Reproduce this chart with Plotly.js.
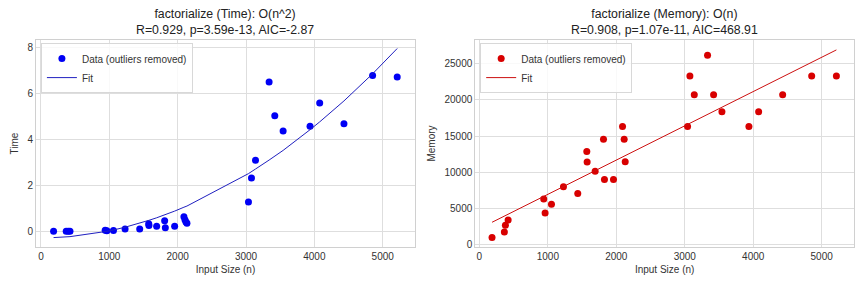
<!DOCTYPE html>
<html><head><meta charset="utf-8">
<script src="https://cdn.plot.ly/plotly-3.0.1.min.js"></script>
<style>body{margin:0;padding:0;background:#fff}#chart{width:864px;height:288px}</style>
</head><body><div id="chart"></div>
<script>
// Time subplot data
const timeX = [185, 370, 400, 425, 940, 965, 1061, 1231, 1445, 1577, 1580, 1693, 1810, 1820, 1956, 2092, 2107, 2122, 2136, 3036, 3080, 3139, 3338, 3421, 3543, 3937, 4078, 4433, 4852, 5212];
const timeY = [0.0, 0.0, 0.0, 0.0, 0.05, 0.03, 0.04, 0.1, 0.1, 0.33, 0.25, 0.22, 0.46, 0.16, 0.22, 0.64, 0.51, 0.41, 0.35, 1.28, 2.32, 3.09, 6.49, 5.03, 4.36, 4.57, 5.58, 4.68, 6.78, 6.71];
const timeFitY = [-0.27, -0.24, -0.23, -0.23, -0.01, 0.0, 0.06, 0.18, 0.35, 0.47, 0.48, 0.59, 0.71, 0.72, 0.88, 1.05, 1.07, 1.08, 1.10, 2.51, 2.59, 2.71, 3.10, 3.27, 3.52, 4.42, 4.76, 5.67, 6.85, 7.95];
// Memory subplot data
const memX = [185, 365, 380, 420, 940, 960, 1053, 1228, 1437, 1569, 1574, 1691, 1813, 1827, 1959, 2091, 2115, 2130, 3041, 3075, 3139, 3333, 3421, 3543, 3937, 4079, 4430, 4854, 5215];
const memY = [1000, 1770, 2690, 3410, 6320, 4370, 5590, 8000, 7090, 12870, 11420, 10140, 14550, 9000, 9000, 16330, 14550, 11460, 16330, 23290, 20700, 26150, 20700, 18370, 16330, 18370, 20700, 23290, 23290];
const memFitX = [185, 5215];
const memFitY = [3100, 26900];
const titles = ["factorialize (Time): O(n^2)<br>R=0.929, p=3.59e-13, AIC=-2.87",
                "factorialize (Memory): O(n)<br>R=0.908, p=1.07e-11, AIC=468.91"];
const yTitles = ["Time", "Memory"];
const xTitle = "Input Size (n)";
const legendNames = ["Data (outliers removed)", "Fit"];

const FONT = "Liberation Sans, Arial, sans-serif";
const traces = [
  {x: timeX, y: timeY, type: 'scatter', mode: 'markers', name: legendNames[0],
   marker: {color: '#0000f5', size: 7}, xaxis: 'x', yaxis: 'y', legend: 'legend'},
  {x: timeX, y: timeFitY, type: 'scatter', mode: 'lines', name: legendNames[1],
   line: {color: '#2020c0', width: 1}, xaxis: 'x', yaxis: 'y', legend: 'legend'},
  {x: memX, y: memY, type: 'scatter', mode: 'markers', name: legendNames[0],
   marker: {color: '#d80000', size: 7}, xaxis: 'x2', yaxis: 'y2', legend: 'legend2'},
  {x: memFitX, y: memFitY, type: 'scatter', mode: 'lines', name: legendNames[1],
   line: {color: '#cc1010', width: 1}, xaxis: 'x2', yaxis: 'y2', legend: 'legend2'}
];
const axBase = {
  showgrid: true, gridcolor: '#dedede', gridwidth: 1, zeroline: false,
  showline: true, linecolor: '#d0d0d0', linewidth: 1, mirror: true,
  ticks: '', tickfont: {family: FONT, size: 10, color: '#333'}, tickformat: 'd'
};
function ax(o){ return Object.assign(JSON.parse(JSON.stringify(axBase)), o); }
const tf = {family: FONT, size: 10, color: '#333'};
const legBase = {bgcolor: 'rgba(255,255,255,0.8)', bordercolor: '#d8d8d8', borderwidth: 1,
  font: {family: FONT, size: 10, color: '#333'}, xanchor: 'left', yanchor: 'top', yref: 'paper', xref: 'paper',
  tracegroupgap: 0, itemwidth: 30};
const layout = {
  width: 864, height: 288,
  margin: {l: 36, r: 10, t: 40, b: 41},
  paper_bgcolor: '#fff', plot_bgcolor: '#fff',
  showlegend: true,
  xaxis: ax({domain: [0, 0.4633], range: [-72, 5472], tickvals: [0,1000,2000,3000,4000,5000], anchor: 'y',
    title: {text: xTitle, standoff: 4, font: tf}}),
  yaxis: ax({domain: [0, 1], range: [-0.68, 8.32], tickvals: [0,2,4,6,8], anchor: 'x',
    title: {text: yTitles[0], standoff: 6, font: tf}}),
  xaxis2: ax({domain: [0.537, 1], range: [-60, 5472], tickvals: [0,1000,2000,3000,4000,5000], anchor: 'y2',
    title: {text: xTitle, standoff: 4, font: tf}}),
  yaxis2: ax({domain: [0, 1], range: [-313, 28270], tickvals: [0,5000,10000,15000,20000,25000], anchor: 'x2',
    title: {text: yTitles[1], standoff: 6, font: tf}}),
  legend: Object.assign({}, legBase, {x: 0.006, y: 0.985}),
  legend2: Object.assign({}, legBase, {x: 0.543, y: 0.985}),
  annotations: [
    {text: titles[0], xref: 'paper', yref: 'paper', x: 0.2316, xanchor: 'center', align: 'center', y: 1.0, yanchor: 'bottom', yshift: 1, showarrow: false,
     font: {family: FONT, size: 12.3, color: '#222'}},
    {text: titles[1], xref: 'paper', yref: 'paper', x: 0.7685, xanchor: 'center', align: 'center', y: 1.0, yanchor: 'bottom', yshift: 1, showarrow: false,
     font: {family: FONT, size: 12.3, color: '#222'}}
  ]
};
Plotly.newPlot('chart', traces, layout, {displayModeBar: false, staticPlot: true});
</script></body></html>
